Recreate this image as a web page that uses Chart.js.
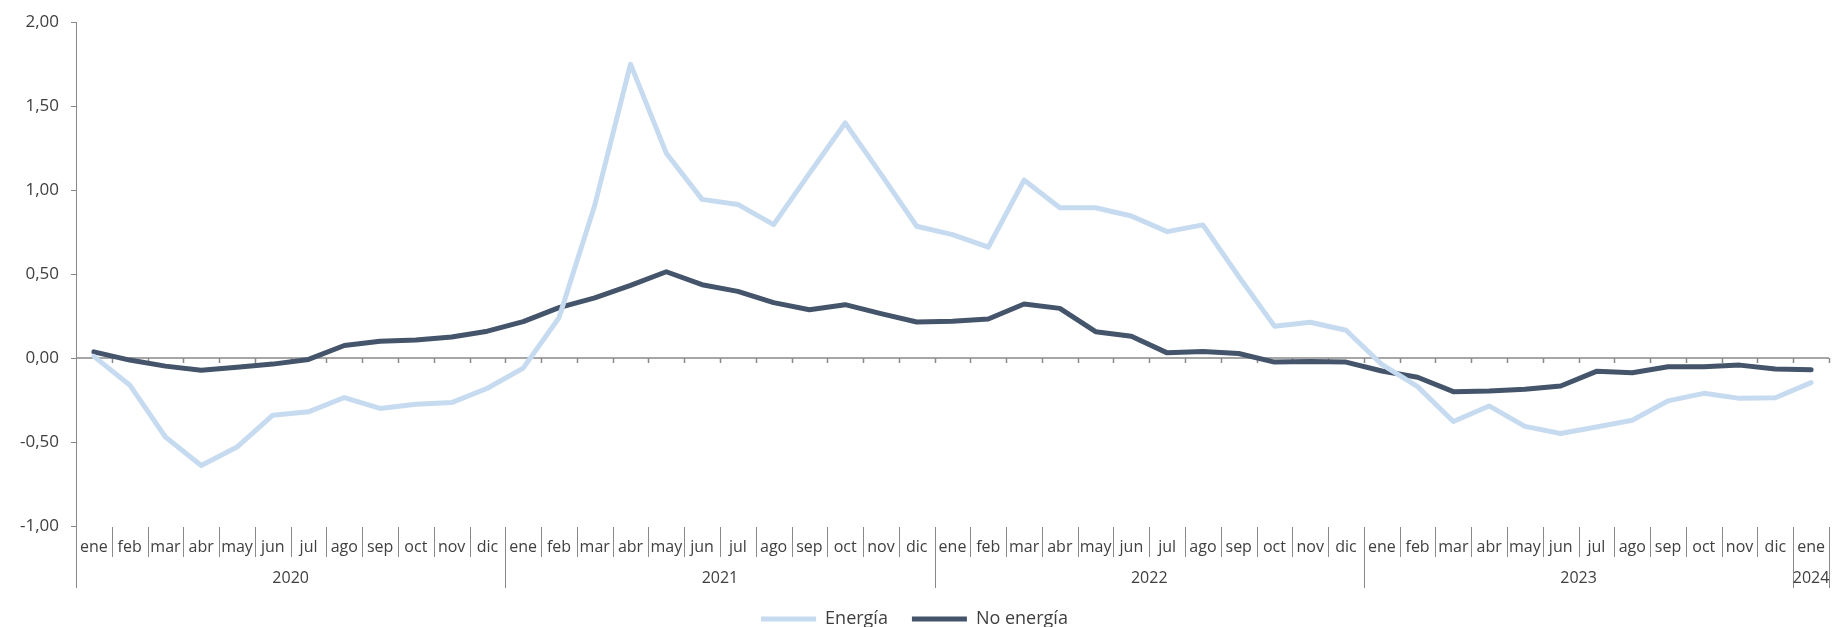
<!DOCTYPE html>
<html>
<head>
<meta charset="utf-8">
<script src="https://cdn.jsdelivr.net/npm/chart.js@4.4.1/dist/chart.umd.min.js"></script>
<style>
  html, body { margin: 0; padding: 0; background: #fff; }
  canvas { display: block; }
</style>
</head>
<body>
<canvas id="chart" width="1833" height="627"></canvas>
<script>
const months = [
  'ene','feb','mar','abr','may','jun','jul','ago','sep','oct','nov','dic',
  'ene','feb','mar','abr','may','jun','jul','ago','sep','oct','nov','dic',
  'ene','feb','mar','abr','may','jun','jul','ago','sep','oct','nov','dic',
  'ene','feb','mar','abr','may','jun','jul','ago','sep','oct','nov','dic',
  'ene'
];
const years = ['2020', '2021', '2022', '2023', '2024'];
const yearMonths = [12, 12, 12, 12, 1];

const energia = [
  0.01, -0.16, -0.47, -0.64, -0.53, -0.34, -0.32, -0.235, -0.30, -0.275, -0.265, -0.18,
  -0.06, 0.24, 0.91, 1.75, 1.22, 0.945, 0.915, 0.795, 1.10, 1.40, 1.095, 0.785,
  0.735, 0.66, 1.06, 0.895, 0.895, 0.846, 0.753, 0.793, 0.486, 0.19, 0.213, 0.166,
  -0.038, -0.17, -0.378, -0.285, -0.407, -0.449, -0.41, -0.37, -0.255, -0.21, -0.24, -0.236,
  -0.146
];
const noEnergia = [
  0.037, -0.012, -0.048, -0.073, -0.054, -0.036, -0.008, 0.075, 0.10, 0.107, 0.125, 0.16,
  0.217, 0.30, 0.358, 0.433, 0.514, 0.437, 0.397, 0.33, 0.288, 0.318, 0.265, 0.215,
  0.219, 0.233, 0.322, 0.296, 0.157, 0.13, 0.031, 0.039, 0.027, -0.024, -0.02, -0.024,
  -0.077, -0.114, -0.2, -0.196, -0.186, -0.166, -0.079, -0.087, -0.052, -0.052, -0.042, -0.065,
  -0.07
];

const AXIS = '#898989';
const TEXT = '#404040';
const FONT = '"Open Sans"';

// zero line, month/year category axis drawn under the plot
const axisDecor = {
  id: 'axisDecor',
  beforeDatasetsDraw(chart) {
    const { ctx, chartArea: a, scales: { x, y } } = chart;
    const y0 = y.getPixelForValue(0);
    const step = x.getPixelForValue(1) - x.getPixelForValue(0);
    ctx.save();
    ctx.strokeStyle = AXIS;
    ctx.lineWidth = 1.5;
    ctx.beginPath();
    ctx.moveTo(a.left, y0);
    ctx.lineTo(a.right, y0);
    for (let i = 0; i < months.length; i++) {
      const bx = Math.round(x.getPixelForValue(i) + step / 2) + 0.5;
      ctx.moveTo(bx, y0);
      ctx.lineTo(bx, y0 + 5);
    }
    ctx.stroke();
    ctx.restore();
  },
  afterDraw(chart) {
    const { ctx, chartArea: a, scales: { x } } = chart;
    const step = x.getPixelForValue(1) - x.getPixelForValue(0);
    const b = a.bottom;
    ctx.save();
    ctx.strokeStyle = AXIS;
    ctx.lineWidth = 1;
    ctx.beginPath();
    // y axis runs down through the label rows
    ctx.moveTo(a.left + 0.5, b);
    ctx.lineTo(a.left + 0.5, b + 62);
    let start = 0;
    const yearEnds = new Set();
    yearMonths.forEach(n => { start += n; yearEnds.add(start - 1); });
    for (let i = 0; i < months.length; i++) {
      const bx = Math.round(x.getPixelForValue(i) + step / 2) + 0.5;
      ctx.moveTo(bx, b + 1);
      ctx.lineTo(bx, yearEnds.has(i) ? b + 62 : b + 31);
    }
    ctx.stroke();

    ctx.fillStyle = TEXT;
    ctx.textAlign = 'center';
    ctx.textBaseline = 'middle';
    ctx.font = `16px ${FONT}`;
    months.forEach((m, i) => ctx.fillText(m, x.getPixelForValue(i), b + 21));
    start = 0;
    years.forEach((yr, k) => {
      const first = x.getPixelForValue(start) - step / 2;
      const last = x.getPixelForValue(start + yearMonths[k] - 1) + step / 2;
      ctx.fillText(yr, (first + last) / 2, b + 52);
      start += yearMonths[k];
    });
    ctx.restore();
  }
};

new Chart(document.getElementById('chart'), {
  type: 'line',
  data: {
    labels: months,
    datasets: [{
      label: 'Energía',
      data: energia,
      borderColor: '#c6dbf0',
      backgroundColor: '#c6dbf0',
      borderWidth: 5,
      borderCapStyle: 'round',
      borderJoinStyle: 'round',
      pointRadius: 0,
      pointStyle: 'line',
      tension: 0
    }, {
      label: 'No energía',
      data: noEnergia,
      borderColor: '#44546a',
      backgroundColor: '#44546a',
      borderWidth: 5,
      borderCapStyle: 'round',
      borderJoinStyle: 'round',
      pointRadius: 0,
      pointStyle: 'line',
      tension: 0
    }]
  },
  options: {
    responsive: false,
    devicePixelRatio: 1,
    animation: false,
    layout: { padding: { top: 18, right: 4, left: 0, bottom: -11 } },
    scales: {
      x: {
        offset: true,
        grid: { display: false },
        border: { display: false },
        ticks: { display: false },
        afterFit(s) { s.height = 60; }
      },
      y: {
        min: -1,
        max: 2,
        ticks: {
          stepSize: 0.5,
          padding: 12,
          color: TEXT,
          font: { family: FONT, size: 17 },
          callback: v => v.toFixed(2).replace('.', ',')
        },
        grid: { drawOnChartArea: false, tickLength: 5, color: AXIS },
        border: { display: true, color: AXIS, width: 1 },
        afterFit(s) { s.width = 76; }
      }
    },
    plugins: {
      legend: {
        position: 'bottom',
        labels: {
          usePointStyle: true,
          pointStyleWidth: 55,
          padding: 24,
          color: TEXT,
          font: { family: FONT, size: 18 }
        }
      },
      tooltip: { enabled: false }
    }
  },
  plugins: [axisDecor]
});
</script>
</body>
</html>
